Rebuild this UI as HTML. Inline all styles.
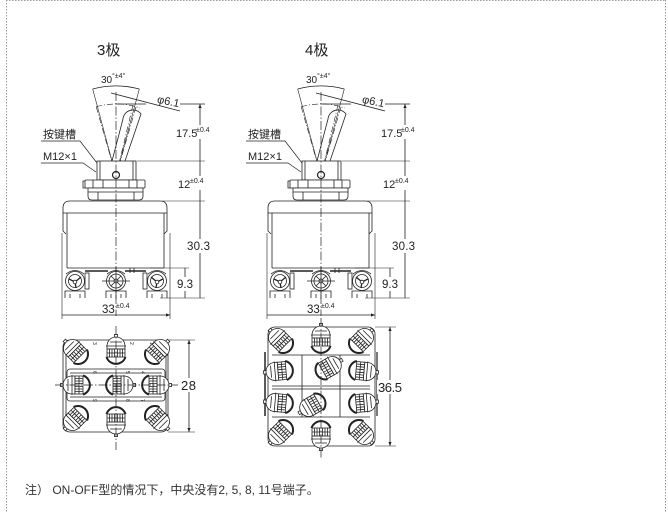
<!DOCTYPE html>
<html><head><meta charset="utf-8"><style>
html,body{margin:0;padding:0;background:#fff;}
svg{display:block;}
text{font-family:"Liberation Sans","Noto Sans CJK SC",sans-serif;fill:#222;}
</style></head><body>
<svg width="668" height="512" viewBox="0 0 668 512" xmlns="http://www.w3.org/2000/svg">
<defs>
<marker id="ar" viewBox="0 0 10 10" refX="10" refY="5" markerWidth="5" markerHeight="4" orient="auto-start-reverse" markerUnits="userSpaceOnUse"><path d="M0,1 L10,5 L0,9 z" fill="#222"/></marker>
<g id="tb" stroke="#222" stroke-width="0.8" fill="#fff">
 <rect x="-1.6" y="-16.5" width="3.2" height="3"/>
 <path d="M-9,-2 L-9,-5 A9,9 0 0 1 9,-5 L9,-2 Z"/>
 <path d="M-10,-5H10 M-6,-9 H6" fill="none"/>
 <rect x="-9" y="-2" width="18" height="8"/>
 <path d="M-6.5,-2V6M-4,-2V6M-1.5,-2V6M1.5,-2V6M4,-2V6M6.5,-2V6M-9,2H9" fill="none"/>
 <path d="M-9.5,6 A10,10 0 0 0 9.5,6" fill="none" stroke-width="2"/>
</g>
<g id="sl" stroke="#222" stroke-width="0.8" fill="none">
 <path d="M-9,-7 Q0,-14 9,-7"/>
 <circle r="9.5" fill="#fff"/>
 <circle r="6.5"/>
 <path d="M-6,-2 L0,1 L6,-4 M0,1 L1,7" stroke-width="1.3"/>
 <circle cx="0" cy="1" r="1.8" fill="#fff"/>
</g>
<g id="sc" stroke="#222" stroke-width="0.8" fill="none">
 <path d="M-9,-7 Q0,-14 9,-7"/>
 <circle r="9.5" fill="#fff"/>
 <circle r="7"/>
 <path d="M-5,-5 L5,5 M-5,5 L5,-5"/>
 <circle r="2" fill="#fff"/>
 <path d="M-14,0 H14 M0,-14 V18"/>
</g>
<g id="sv" fill="none" stroke="#222" stroke-width="0.8">
 <path d="M92.7,89 A90,90 0 0 1 139.3,89"/>
 <path d="M92.7,89 L116,176 M139.3,89 L116,176" stroke-width="0.6"/>
 <path d="M96.2,106.8 A72,72 0 0 1 140,108" stroke-dasharray="6,2,1,2" stroke-width="0.6"/>
 <path d="M96.2,106.8 L116,176 M136,107 L116,176 M133,105 L116,176" stroke-dasharray="6,2,1,2" stroke-width="0.6"/>
 <path d="M112,161 L123,119 A10,10 0 0 1 141,114 L125,161" stroke-width="0.8"/>
 <path d="M111,93 L180,111"/>
 <path d="M116,104 H146 M180,104 H205"/>
 <path d="M200,104 V161 M200,161 V201 M200,201 V298 M185,268 V298 M62,315 H170" marker-start="url(#ar)" marker-end="url(#ar)"/>
 <path d="M137,161 H205 M162,201 H205 M150,268 H189 M160,298 H205 M62,233 V319 M170,233 V319" stroke-width="0.6"/>
 <path d="M41,141 H80 L97,163 M41,163 H83 L96,172" stroke-width="0.7"/>
 <rect x="97" y="161" width="39" height="19" fill="#fff"/>
 <path d="M100,161 V180 M133,161 V180"/>
 <circle cx="116" cy="175" r="3.5" fill="#fff" stroke-width="1.2"/>
 <path d="M83,181 H86 V188 H83 Z"/>
 <rect x="85" y="180" width="60" height="8" rx="1" fill="#fff"/>
 <path d="M93,180 V188 M103,180 V188 M129,180 V188 M137,180 V188"/>
 <path d="M88,188 H143 V196 Q143,200 139,200 H92 Q88,200 88,196 Z" fill="#fff"/>
 <path d="M88,192 H143 M98,192 V200 M134,192 V200"/>
 <path d="M63,213 V208 Q63,201 70,201 H160 Q167,201 167,208 V213"/>
 <path d="M63,213 H167 M63,213 V231 L66,234 M167,213 V231 L164,234 M67,213 V268 M164,213 V268 M67,268 H164"/>
 <path d="M85,271 H108 M125,271 H146" stroke-width="1.6"/>
 <path d="M130,268 V273 M134,268 V273"/>
 <rect x="85" y="273" width="4" height="16" fill="#fff"/>
 <rect x="143" y="273" width="4" height="16" fill="#fff"/>
 <path d="M65,298 V291 H85 V298 M70,298 V294 M80,298 V294"/>
 <path d="M106,298 V291 H126 V298 M111,298 V294 M121,298 V294"/>
 <path d="M147,298 V291 H167 V298 M152,298 V294 M162,298 V294"/>
 <path d="M116,92 V316" stroke-dasharray="9,2,1.5,2" stroke-width="0.7"/>
 <rect x="175" y="125" width="39" height="14" fill="#fff" stroke="none"/>
 <rect x="177" y="176" width="35" height="14" fill="#fff" stroke="none"/>
 <rect x="186" y="239" width="25" height="14" fill="#fff" stroke="none"/>
 <rect x="176" y="277" width="18" height="14" fill="#fff" stroke="none"/>
</g>
</defs>

<path d="M6.5,0 V512 M6,0.5 H666 M665.5,0 V512" stroke="#999" stroke-width="1" stroke-dasharray="1.5,1.5" fill="none"/>

<!-- 3 pole side -->
<use href="#sv"/>
<use href="#sl" x="75" y="281"/>
<use href="#sc" x="116" y="281"/>
<use href="#sl" transform="translate(157,281) scale(-1,1)"/>
<!-- 4 pole side -->
<use href="#sv" transform="translate(205,0)"/>
<use href="#sl" x="280" y="281"/>
<use href="#sc" x="321" y="281"/>
<use href="#sl" transform="translate(362,281) scale(-1,1)"/>

<!-- texts left -->
<text x="97" y="55" font-size="15">3极</text>
<text x="101" y="83" font-size="10">30</text><text x="112" y="78" font-size="7">°±4°</text>
<text x="157" y="105" font-size="11" transform="rotate(12 168 102)">φ6.1</text>
<text x="176" y="137" font-size="11">17.5</text><text x="196" y="132" font-size="7">±0.4</text>
<text x="178" y="188" font-size="11">12</text><text x="190" y="183" font-size="7">±0.4</text>
<text x="43" y="138" font-size="11">按键槽</text>
<text x="43" y="160" font-size="11">M12×1</text>
<text x="187" y="250" font-size="11.5" textLength="23">30.3</text>
<text x="177" y="288" font-size="11.5">9.3</text>
<text x="102" y="313" font-size="11.5">33</text><text x="116" y="308" font-size="7">±0.4</text>

<!-- texts right -->
<text x="305" y="55" font-size="15">4极</text>
<text x="306" y="83" font-size="10">30</text><text x="317" y="78" font-size="7">°±4°</text>
<text x="362" y="105" font-size="11" transform="rotate(12 373 102)">φ6.1</text>
<text x="381" y="137" font-size="11">17.5</text><text x="401" y="132" font-size="7">±0.4</text>
<text x="383" y="188" font-size="11">12</text><text x="395" y="183" font-size="7">±0.4</text>
<text x="248" y="138" font-size="11">按键槽</text>
<text x="248" y="160" font-size="11">M12×1</text>
<text x="392" y="250" font-size="11.5" textLength="23">30.3</text>
<text x="382" y="288" font-size="11.5">9.3</text>
<text x="307" y="313" font-size="11.5">33</text><text x="321" y="308" font-size="7">±0.4</text>

<!-- 3 pole bottom view -->
<g fill="none" stroke="#222" stroke-width="0.8">
 <rect x="63" y="340" width="105" height="92" rx="7"/>
 <path d="M66,356 V416 M166,356 V416"/>
 <rect x="67" y="369" width="98" height="32" rx="3"/>
 <path d="M70,373 H162 M70,397 H162"/>
 <path d="M189,340 V432" marker-start="url(#ar)" marker-end="url(#ar)"/>
 <path d="M168,340 H195 M168,432 H195" stroke-width="0.6"/>
</g>
<use href="#tb" transform="translate(76,352) rotate(-45)"/>
<use href="#tb" transform="translate(116,351)"/>
<use href="#tb" transform="translate(157,352) rotate(45)"/>
<use href="#tb" transform="translate(77,385) rotate(-90)"/>
<use href="#tb" transform="translate(119,385) rotate(90)"/>
<use href="#tb" transform="translate(155,385) rotate(90)"/>
<use href="#tb" transform="translate(76,418) rotate(-135)"/>
<use href="#tb" transform="translate(116,420) rotate(180)"/>
<use href="#tb" transform="translate(157,418) rotate(135)"/>
<g fill="none" stroke="#222" stroke-width="0.7" stroke-dasharray="9,2,1.5,2">
 <path d="M55,385 H178"/>
 <path d="M116,326 V450"/>
</g>
<g font-size="5" fill="#333">
 <text x="93" y="346" transform="rotate(90 95 344)">3</text>
 <text x="130" y="346" transform="rotate(90 132 344)">2</text>
 <text x="150" y="346" transform="rotate(90 152 344)">1</text>
 <text x="93" y="375" transform="rotate(90 95 373)">6</text>
 <text x="126" y="375" transform="rotate(90 128 373)">5</text>
 <text x="141" y="375" transform="rotate(90 143 373)">4</text>
 <text x="93" y="403" transform="rotate(90 95 401)">9</text>
 <text x="126" y="403" transform="rotate(90 128 401)">8</text>
 <text x="141" y="403" transform="rotate(90 143 401)">7</text>
</g>
<rect x="180" y="378" width="17" height="14" fill="#fff"/>
<text x="181" y="390" font-size="13" textLength="15">28</text>

<!-- 4 pole bottom view -->
<g fill="none" stroke="#222" stroke-width="0.8">
 <rect x="268" y="327" width="107" height="119" rx="7"/>
 <path d="M265,352 V416" stroke-width="1.5"/>
 <path d="M377,352 V416" stroke-width="1.2"/>
 <path d="M272,355 H370 M272,386 H370 M272,389 H370 M272,417 H370 M302,355 V417 M340,355 V417"/>
 <path d="M390,327 V446" marker-start="url(#ar)" marker-end="url(#ar)"/>
 <path d="M375,327 H396 M375,446 H396" stroke-width="0.6"/>
</g>
<use href="#tb" transform="translate(281,341) rotate(-45)"/>
<use href="#tb" transform="translate(321,340)"/>
<use href="#tb" transform="translate(361,341) rotate(45)"/>
<use href="#tb" transform="translate(280,371) rotate(-95)"/>
<use href="#tb" transform="translate(328,368) rotate(60)"/>
<use href="#tb" transform="translate(362,371) rotate(95)"/>
<use href="#tb" transform="translate(280,403) rotate(-85)"/>
<use href="#tb" transform="translate(313,405) rotate(-120)"/>
<use href="#tb" transform="translate(362,403) rotate(85)"/>
<use href="#tb" transform="translate(281,432) rotate(-135)"/>
<use href="#tb" transform="translate(321,434) rotate(180)"/>
<use href="#tb" transform="translate(361,432) rotate(135)"/>
<path d="M321,318 V458" fill="none" stroke="#222" stroke-width="0.7" stroke-dasharray="9,2,1.5,2"/>
<rect x="377" y="380" width="27" height="14" fill="#fff"/>
<text x="378" y="392" font-size="13" textLength="24">36.5</text>

<!-- note -->
<text x="25" y="494" font-size="12" style="fill:#333">注） ON-OFF型的情况下，中央没有2, 5, 8, 11号端子。</text>
</svg>
</body></html>
